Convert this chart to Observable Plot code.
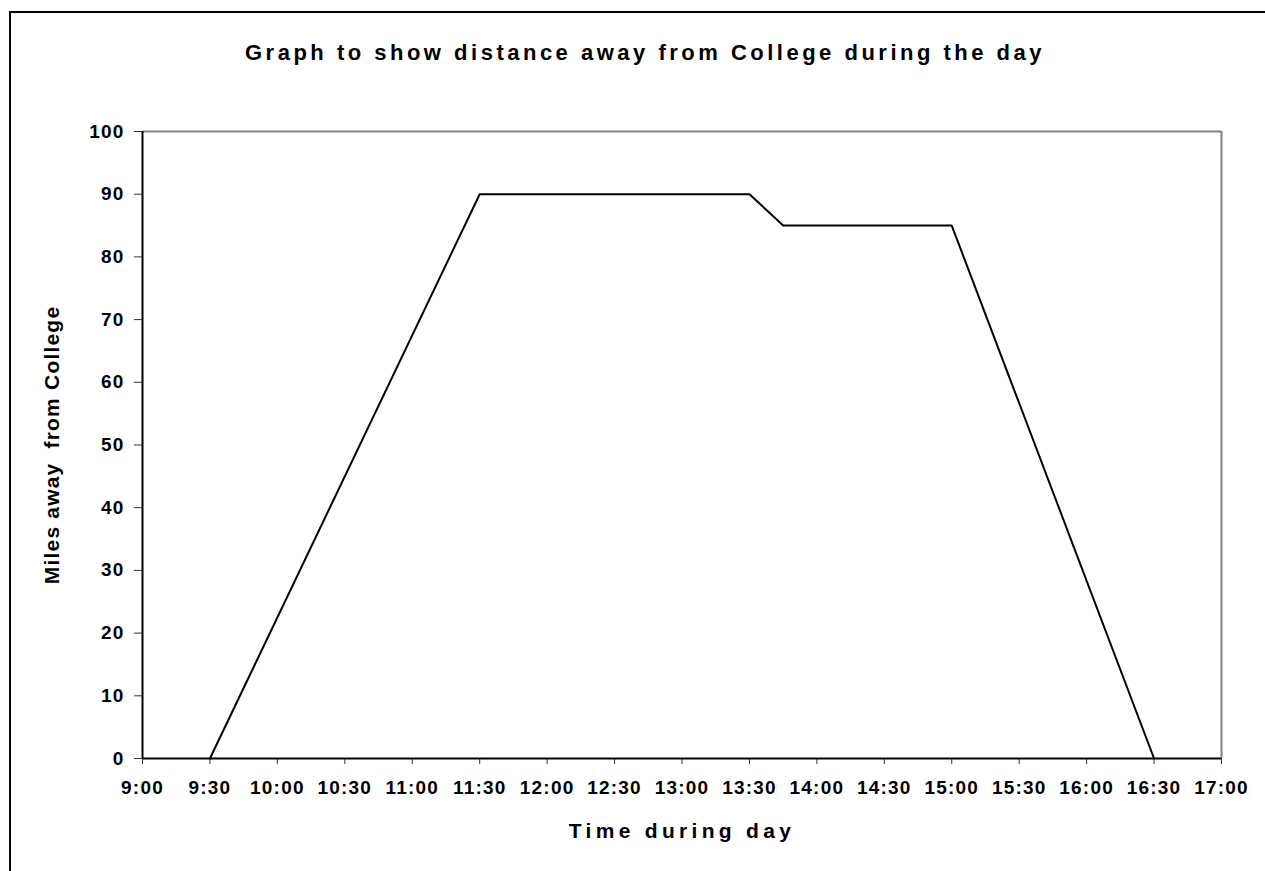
<!DOCTYPE html>
<html>
<head>
<meta charset="utf-8">
<script src="https://cdn.jsdelivr.net/npm/d3@7"></script>
<script src="https://cdn.jsdelivr.net/npm/@observablehq/plot@0.6"></script>
<style>
  html, body { margin: 0; padding: 0; background: #fff; }
  #wrap { position: relative; width: 1265px; height: 871px; overflow: hidden; font-family: "Liberation Sans", Arial, sans-serif; }
  #border { position: absolute; left: 9px; top: 11px; width: 1400px; height: 1000px; border-left: 2px solid #000; border-top: 2px solid #000; }
  #chart { position: absolute; left: 0; top: 0; }
  svg text { white-space: pre; }
  g[aria-label="y-axis tick label"] text, g[aria-label="x-axis tick label"] text { letter-spacing: 1.2px; }
</style>
</head>
<body>
<div id="wrap"><div id="border"></div><div id="chart"></div></div>
<script>
const times = ["9:30", "11:30", "13:30", "13:45", "15:00", "16:30"];
const miles = [0, 90, 90, 85, 85, 0];
const yTicks = [0, 10, 20, 30, 40, 50, 60, 70, 80, 90, 100];
const xTickLabels = ["9:00","9:30","10:00","10:30","11:00","11:30","12:00","12:30","13:00","13:30","14:00","14:30","15:00","15:30","16:00","16:30","17:00"];
const title = "Graph to show distance away from College during the day";
const xLabel = "Time during day";
const yLabel = "Miles away  from College";

const toHours = s => { const [h, m] = s.split(":").map(Number); return h + m / 60; };
const data = times.map((t, i) => ({ t: toHours(t), miles: miles[i] }));
const xTicks = xTickLabels.map(toHours);
const fmt = h => xTickLabels[xTicks.indexOf(h)] ?? "";

const chart = Plot.plot({
  width: 1265,
  height: 871,
  marginLeft: 142,
  marginRight: 44,
  marginTop: 131,
  marginBottom: 113,
  style: { fontFamily: "'Liberation Sans', Arial, sans-serif", background: "transparent", overflow: "visible" },
  x: { domain: [9, 17] },
  y: { domain: [0, 100] },
  marks: [
    Plot.ruleY([100], { stroke: "#808080", strokeWidth: 2 }),
    Plot.ruleX([17], { stroke: "#808080", strokeWidth: 2 }),
    Plot.axisY({ ticks: yTicks, tickSize: 8, tickPadding: 10, fontSize: 19, fontWeight: "bold", fill: "#000", stroke: "#333", label: null }),
    Plot.axisX({ ticks: xTicks, tickFormat: fmt, tickSize: 6, tickPadding: 16, fontSize: 19, fontWeight: "bold", fill: "#000", stroke: "#333", label: null }),
    Plot.ruleX([9], { stroke: "#000", strokeWidth: 2 }),
    Plot.ruleY([0], { stroke: "#000", strokeWidth: 2 }),
    Plot.line(data, { x: "t", y: "miles", stroke: "#000", strokeWidth: 2 }),
    Plot.text([title], { frameAnchor: "top", dx: -37, dy: -87, fontSize: 22, fontWeight: "bold", fill: "#000" }),
    Plot.text([xLabel], { frameAnchor: "bottom", dy: 79, fontSize: 21, fontWeight: "bold", fill: "#000" }),
    Plot.text([yLabel], { frameAnchor: "left", textAnchor: "middle", lineAnchor: "middle", dx: -90, rotate: -90, fontSize: 21, fontWeight: "bold", fill: "#000" })
  ]
});
const spacing = new Map([[title, 3.5], [xLabel, 4.3], [yLabel, 1.2]]);
d3.select(chart).selectAll("text").each(function () {
  const s = spacing.get(this.textContent);
  if (s != null) this.setAttribute("letter-spacing", s);
});
document.getElementById("chart").appendChild(chart);
</script>
</body>
</html>
